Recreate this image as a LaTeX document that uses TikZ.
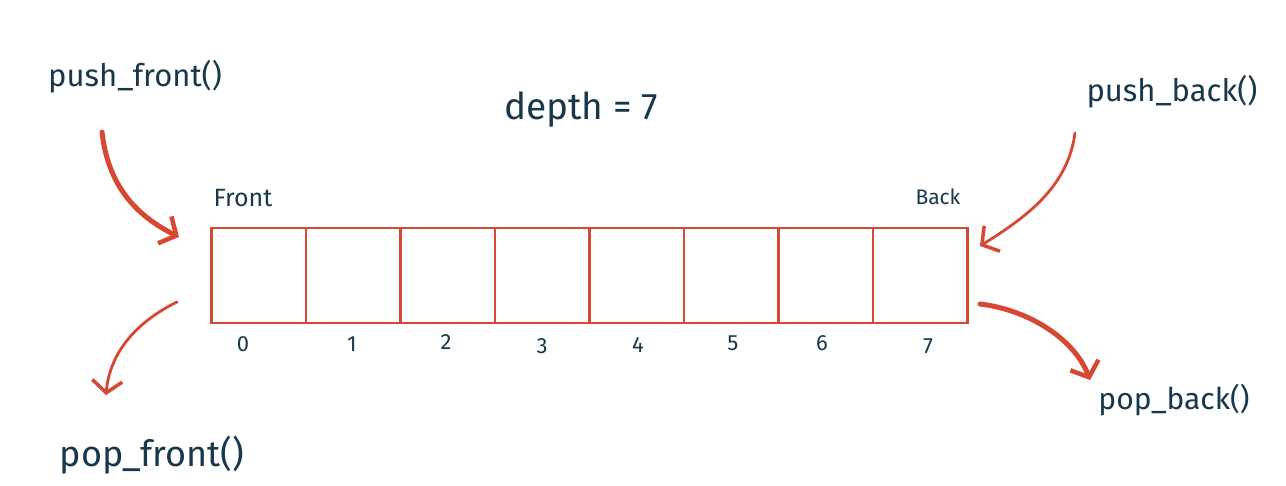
\documentclass[tikz,border=0pt]{standalone}
\usepackage{fontspec}
\setmainfont{Fira Sans}
\usetikzlibrary{arrows.meta}
\definecolor{ink}{HTML}{17384A}
\definecolor{redl}{HTML}{D64833}
\tikzset{
  cell/.style={draw=redl, line width=2.5pt, minimum width=94.5pt, minimum height=95pt, outer sep=0pt, inner sep=0pt},
  lbl/.style={text=ink, inner sep=0pt, font=\fontsize{31}{36}\selectfont},
  small/.style={text=ink, inner sep=0pt, font=\fontsize{23}{26}\selectfont},
  idx/.style={text=ink, inner sep=0pt, font=\fontsize{22}{26}\selectfont},
  thick arr/.style={draw=redl, line width=5pt, line cap=round, -{Straight Barb[length=13pt,width=30pt,line width=4.5pt]}},
  thin arr/.style={draw=redl, line width=2.8pt, line cap=round, -{Straight Barb[length=12pt,width=30pt,line width=3.5pt]}},
}
\begin{document}
\begin{tikzpicture}[x=1pt,y=-1pt]
\useasboundingbox (0,0) rectangle (1286,486);
\fill[white] (0,0) rectangle (1286,486);
% cells
\foreach \i in {0,...,7} {
  \node[cell] (c\i) at ({258.5+94.5*\i},275.5) {};
}
% index labels
\node[idx] (i0) at (243,344) {0};
\node[idx] (i1) at (352,344) {1};
\node[idx] (i2) at (446,342) {2};
\node[idx] (i3) at (542,346) {3};
\node[idx] (i4) at (638,345) {4};
\node[idx] (i5) at (733,343) {5};
\node[idx] (i6) at (822,343) {6};
\node[idx] (i7) at (928,346) {7};
% labels
\node[small, font=\fontsize{25}{28}\selectfont] (front) at (243,198) {Front};
\node[small, font=\fontsize{21}{24}\selectfont] (back) at (938,197) {Back};
\node[lbl, font=\fontsize{37}{42}\selectfont] (depth) at (581,110) {depth = 7};
\node[lbl] (pushf) at (135,77) {push\_front()};
\node[lbl] (pushb) at (1172,92) {push\_back()};
\node[lbl, font=\fontsize{36}{40}\selectfont] (popf) at (152,455) {pop\_front()};
\node[lbl, font=\fontsize{30}{34}\selectfont] (popb) at (1174,400) {pop\_back()};
% connector ends
\coordinate (a1s) at (102,132);
\coordinate (a1e) at (179,237);
\coordinate (a2s) at (1075,133);
\coordinate (a2e) at (980,246);
\coordinate (a3s) at (177,302);
\coordinate (a3e) at (106,395);
\coordinate (a4s) at (980,304);
\coordinate (a4e) at (1090,380);
\draw[thick arr] (a1s) .. controls (108,185) and (135,215) .. (a1e);
\draw[thin arr] (a2s) .. controls (1068,185) and (1030,215) .. (a2e);
\draw[thin arr] (a3s) .. controls (140,320) and (110,350) .. (a3e);
\draw[thick arr] (a4s) .. controls (1030,310) and (1075,340) .. (a4e);
\end{tikzpicture}
\end{document}
